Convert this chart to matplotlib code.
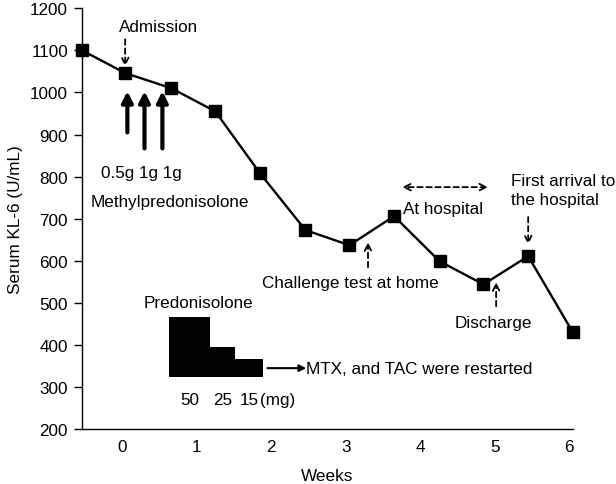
import matplotlib
matplotlib.use("Agg")
import matplotlib.pyplot as plt

plt.rcParams['font.family'] = ['Liberation Sans', 'DejaVu Sans']
FS = 12.3

# serum KL-6 over time
weeks = [-0.54, 0.04, 0.66, 1.25, 1.85, 2.46, 3.05, 3.65, 4.26, 4.85, 5.45, 6.05]
kl6 = [1100, 1046, 1010, 955, 808, 673, 637, 706, 599, 544, 611, 430]

# predonisolone doses (mg) and periods (weeks)
pred_dose = [50, 25, 15]
pred_start = [0.63, 1.18, 1.52]
pred_end = [1.18, 1.52, 1.89]
pred_base = 324
pred_scale = 2.84

# methylpredonisolone pulses
pulse_x = [0.07, 0.30, 0.54]
pulse_tail = [905, 867, 867]
pulse_labels = "0.5g 1g 1g"

fig = plt.figure(figsize=(6.16, 4.85), dpi=100)
ax = fig.add_axes([0.133, 0.113, 0.797, 0.868])

ax.plot(weeks, kl6, color='black', lw=1.7, marker='s', ms=8.5, clip_on=False, zorder=5)

widths = [e - s for s, e in zip(pred_start, pred_end)]
heights = [d * pred_scale for d in pred_dose]
ax.bar(pred_start, heights, width=widths, bottom=pred_base, align='edge',
       color='black', edgecolor='black', lw=0)
for s, w, d in zip(pred_start, widths, pred_dose):
    ax.text(s + w / 2, 271, str(d), ha='center', va='center', fontsize=FS)
ax.text(2.09, 271, "(mg)", ha='center', va='center', fontsize=FS)
ax.text(1.02, 502, "Predonisolone", ha='center', va='center', fontsize=FS)
ax.annotate("", xy=(2.47, 345), xytext=(1.95, 345),
            arrowprops=dict(arrowstyle='-|>', color='black', lw=1.5, mutation_scale=10,
                            shrinkA=0, shrinkB=0))
ax.text(2.47, 345, "MTX, and TAC were restarted", ha='left', va='center', fontsize=FS)

for x, t in zip(pulse_x, pulse_tail):
    ax.annotate("", xy=(x, 1003), xytext=(x, t),
                arrowprops=dict(arrowstyle='-|>', color='black', lw=3, mutation_scale=16,
                                shrinkA=0, shrinkB=0))
ax.text(0.26, 810, pulse_labels, ha='center', va='center', fontsize=FS)
ax.text(0.64, 742, "Methylpredonisolone", ha='center', va='center', fontsize=FS)

dash = dict(arrowstyle='->', color='black', lw=1.3, linestyle=(0, (3, 2)), mutation_scale=12,
            shrinkA=0, shrinkB=0)
ax.text(-0.04, 1157, "Admission", ha='left', va='center', fontsize=FS)
ax.annotate("", xy=(0.04, 1062), xytext=(0.04, 1126), arrowprops=dash)

ax.text(3.07, 549, "Challenge test at home", ha='center', va='center', fontsize=FS)
ax.annotate("", xy=(3.30, 644), xytext=(3.30, 585), arrowprops=dash)

ax.text(3.77, 725, "At hospital", ha='left', va='center', fontsize=FS)
ax.annotate("", xy=(3.76, 775), xytext=(4.91, 775),
            arrowprops=dict(dash, arrowstyle='<->'))

ax.text(5.22, 768, "First arrival to\nthe hospital", ha='left', va='center',
        fontsize=FS, linespacing=1.3)
ax.annotate("", xy=(5.45, 639), xytext=(5.45, 704), arrowprops=dash)

ax.text(4.98, 454, "Discharge", ha='center', va='center', fontsize=FS)
ax.annotate("", xy=(5.02, 549), xytext=(5.02, 492), arrowprops=dash)

ax.set_xlim(-0.54, 6.05)
ax.set_ylim(200, 1200)
ax.set_xticks(range(0, 7))
ax.set_yticks(range(200, 1201, 100))
ax.tick_params(axis='x', length=0, pad=7, labelsize=FS)
ax.tick_params(axis='y', length=6, width=1, pad=4, labelsize=FS)
ax.spines['top'].set_visible(False)
ax.spines['right'].set_visible(False)
ax.spines['left'].set_linewidth(1)
ax.spines['bottom'].set_linewidth(1)
ax.set_xlabel("Weeks", fontsize=FS, labelpad=10)
ax.set_ylabel("Serum KL-6 (U/mL)", fontsize=FS, labelpad=5)

fig.savefig("out.png", dpi=100)
